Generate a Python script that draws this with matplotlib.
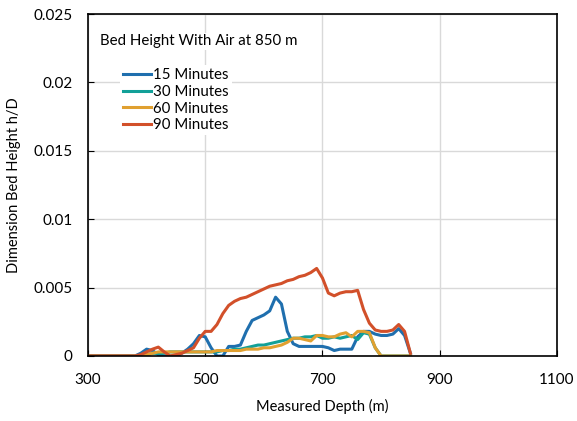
import matplotlib.pyplot as plt

plt.rcParams['font.family'] = ['Lato', 'DejaVu Sans']

depth = list(range(300, 860, 10))

min15 = [0, 0, 0, 0, 0, 0, 0, 0, 0, 0.0002,
         0.0005, 0.0004, 0.0001, 0.0, 0.0, 0.0, 0.0002, 0.0005, 0.0009, 0.0015,
         0.0014, 0.0006, 0.0, 0.0, 0.0007, 0.0007, 0.0008, 0.0018, 0.0026, 0.0028,
         0.0030, 0.0033, 0.0043, 0.0038, 0.0018, 0.0009, 0.0007, 0.0007, 0.0007, 0.0007,
         0.0007, 0.0006, 0.0004, 0.0005, 0.0005, 0.0005, 0.0014, 0.0018, 0.0018, 0.0016,
         0.0015, 0.0015, 0.0016, 0.0020, 0.0015, 0.0002]
min30 = [0, 0, 0, 0, 0, 0, 0, 0, 0, 0,
         0.0001, 0.0002, 0.0002, 0.0002, 0.0003, 0.0003, 0.0003, 0.0003, 0.0003, 0.0003,
         0.0003, 0.0003, 0.0003, 0.0004, 0.0004, 0.0005, 0.0005, 0.0006, 0.0007, 0.0008,
         0.0008, 0.0009, 0.0010, 0.0011, 0.0012, 0.0013, 0.0013, 0.0014, 0.0014, 0.0015,
         0.0013, 0.0013, 0.0014, 0.0013, 0.0014, 0.0015, 0.0012, 0.0017, 0.0016, 0.0006,
         0.0, 0.0, 0.0, 0.0, 0.0, 0.0]
min60 = [0, 0, 0, 0, 0, 0, 0, 0, 0, 0,
         0.0001, 0.0002, 0.0003, 0.0003, 0.0003, 0.0003, 0.0003, 0.0003, 0.0003, 0.0003,
         0.0003, 0.0003, 0.0004, 0.0004, 0.0004, 0.0004, 0.0004, 0.0005, 0.0005, 0.0005,
         0.0006, 0.0006, 0.0007, 0.0008, 0.0010, 0.0013, 0.0013, 0.0012, 0.0011, 0.0015,
         0.0015, 0.0014, 0.0014, 0.0016, 0.0017, 0.0014, 0.0018, 0.0018, 0.0017, 0.0006,
         0.0, 0.0, 0.0, 0.0, 0.0, 0.0]
min90 = [0, 0, 0, 0, 0, 0, 0, 0, 0, 0.0001,
         0.0003, 0.0005, 0.00065, 0.0003, 0.0, 0.0001, 0.0002, 0.0004, 0.0006, 0.0013,
         0.0018, 0.0018, 0.0023, 0.0031, 0.0037, 0.0040, 0.0042, 0.0043, 0.0045, 0.0047,
         0.0049, 0.0051, 0.0052, 0.0053, 0.0055, 0.0056, 0.0058, 0.0059, 0.0061, 0.0064,
         0.0057, 0.0046, 0.0044, 0.0046, 0.0047, 0.0047, 0.0048, 0.0034, 0.0024, 0.0019,
         0.0018, 0.0018, 0.0019, 0.0023, 0.0018, 0.0002]

labels = ['15 Minutes', '30 Minutes', '60 Minutes', '90 Minutes']
colors = ['#1f6fae', '#12a098', '#e0a030', '#d2502a']

fig = plt.figure(figsize=(5.77, 4.21), dpi=100)
ax = fig.add_axes([0.1525, 0.1544, 0.8128, 0.8123])

for vals, lab, col in zip([min15, min30, min60, min90], labels, colors):
    ax.plot(depth, vals, color=col, linewidth=2.2, label=lab)

ax.set_xlim(300, 1100)
ax.set_ylim(0, 0.025)
ax.set_xticks([300, 500, 700, 900, 1100])
ax.set_yticks([0, 0.005, 0.01, 0.015, 0.02, 0.025])
ax.set_yticklabels(['0', '0.005', '0.01', '0.015', '0.02', '0.025'])
ax.tick_params(direction='in', length=4, labelsize=11)
ax.tick_params(axis='x', pad=12)
ax.tick_params(axis='y', pad=11)
ax.grid(True, color='#d9d9d9', linewidth=1)
ax.set_axisbelow(True)
for s in ax.spines.values():
    s.set_color('black')
    s.set_linewidth(1.2)

ax.set_xlabel('Measured Depth (m)', fontsize=10.5, labelpad=9)
ax.set_ylabel('Dimension Bed Height h/D', fontsize=10.5, labelpad=9)

ax.text(0.025, 0.92, 'Bed Height With Air at 850 m', transform=ax.transAxes,
        fontsize=10.8, va='center', ha='left',
        bbox=dict(facecolor='white', edgecolor='none', pad=1))
leg = ax.legend(loc='upper left', bbox_to_anchor=(0.068, 0.85), frameon=True,
                fontsize=10.8, handlelength=1.85, handletextpad=0.15,
                labelspacing=0.18, borderaxespad=0, borderpad=0.2)
leg.get_frame().set_edgecolor('none')
leg.get_frame().set_facecolor('white')
leg.get_frame().set_alpha(1)

fig.savefig('out.png', dpi=100)
